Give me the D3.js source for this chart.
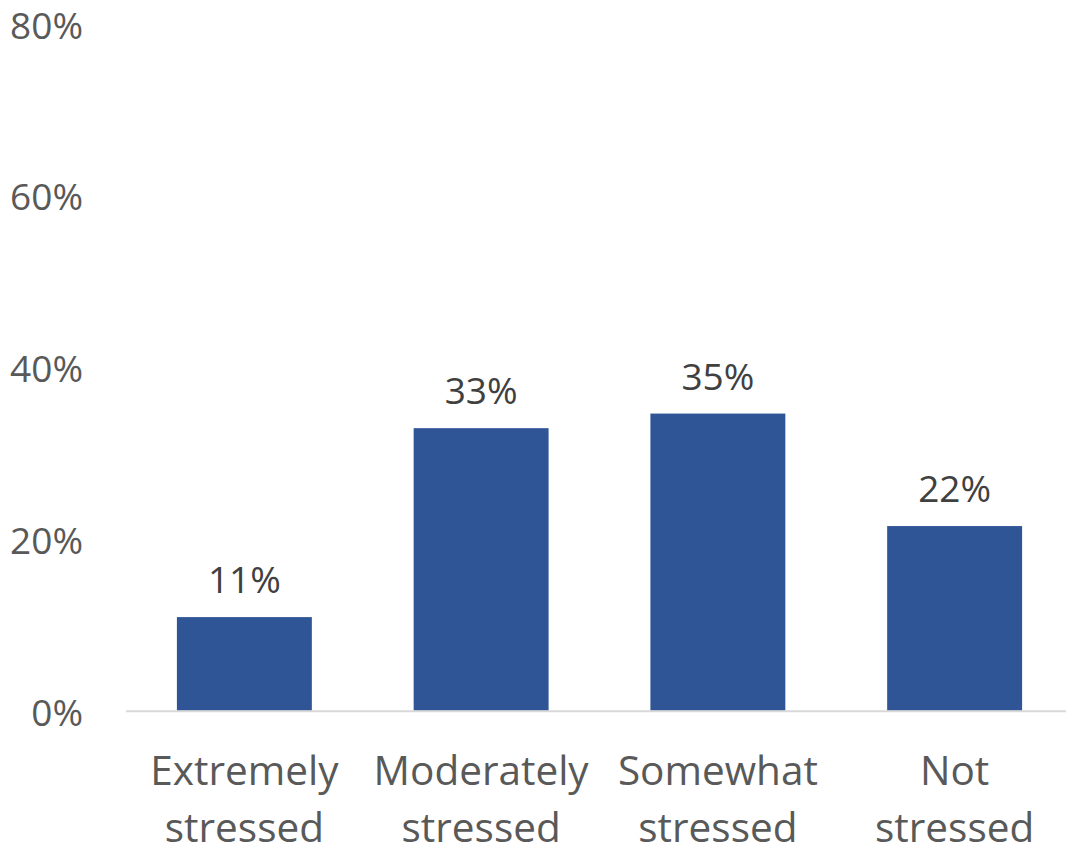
<!DOCTYPE html>
<html>
<head>
<meta charset="utf-8">
<script src="https://cdn.jsdelivr.net/npm/d3@7"></script>
<style>
  html, body { margin: 0; padding: 0; background: #fff; }
  svg { display: block; }
  text { font-family: "Open Sans", sans-serif; }
</style>
</head>
<body>
<svg id="chart" width="1066" height="851"></svg>
<script>
const categories = ["Extremely stressed", "Moderately stressed", "Somewhat stressed", "Not stressed"];
const categoryLines = [["Extremely", "stressed"], ["Moderately", "stressed"], ["Somewhat", "stressed"], ["Not", "stressed"]];
const values = [0.109, 0.329, 0.346, 0.215];
const yTicks = [0, 0.2, 0.4, 0.6, 0.8];

const svg = d3.select("#chart");
const x = d3.scaleBand().domain(categories).range([126, 1073]).paddingInner(0.43).paddingOuter(0.215);
const y = d3.scaleLinear().domain([0, 0.8]).range([710.7, 23.7]);
const pct = d3.format(".0%");

// y tick labels
const yAxis = d3.axisLeft(y).tickValues(yTicks).tickFormat(pct).tickSize(0).tickPadding(0);
const ya = svg.append("g").attr("transform", "translate(83,0)").call(yAxis);
ya.select(".domain").remove();
ya.selectAll("text")
  .attr("x", 0).attr("dy", null)
  .attr("dominant-baseline", "central")
  .attr("text-anchor", "end")
  .attr("fill", "#595959")
  .style("font-size", "37px")
  .style("font-family", "'Open Sans', sans-serif");

// bars
svg.append("g").selectAll("rect").data(values).join("rect")
  .attr("x", (d, i) => x(categories[i]))
  .attr("width", x.bandwidth())
  .attr("y", d => y(d))
  .attr("height", d => y(0) - y(d))
  .attr("fill", "#2F5597");

// axis baseline
svg.append("line")
  .attr("x1", 126).attr("x2", 1066)
  .attr("y1", y(0) + 0.5).attr("y2", y(0) + 0.5)
  .attr("stroke", "#D9D9D9").attr("stroke-width", 2);

// data labels
svg.append("g").selectAll("text").data(values).join("text")
  .attr("x", (d, i) => x(categories[i]) + x.bandwidth() / 2)
  .attr("y", d => y(d) - 24)
  .attr("text-anchor", "middle")
  .attr("fill", "#404040")
  .style("font-size", "37px")
  .text(d => pct(d));

// category labels
const cg = svg.append("g").selectAll("text").data(categories).join("text")
  .attr("text-anchor", "middle")
  .attr("fill", "#595959")
  .style("font-size", "40.5px");
cg.each(function(c, i) {
  const t = d3.select(this);
  categoryLines[i].forEach((ln, j) => {
    t.append("tspan")
      .attr("x", x(c) + x.bandwidth() / 2)
      .attr("y", 785 + j * 57)
      .text(ln);
  });
});
</script>
</body>
</html>
